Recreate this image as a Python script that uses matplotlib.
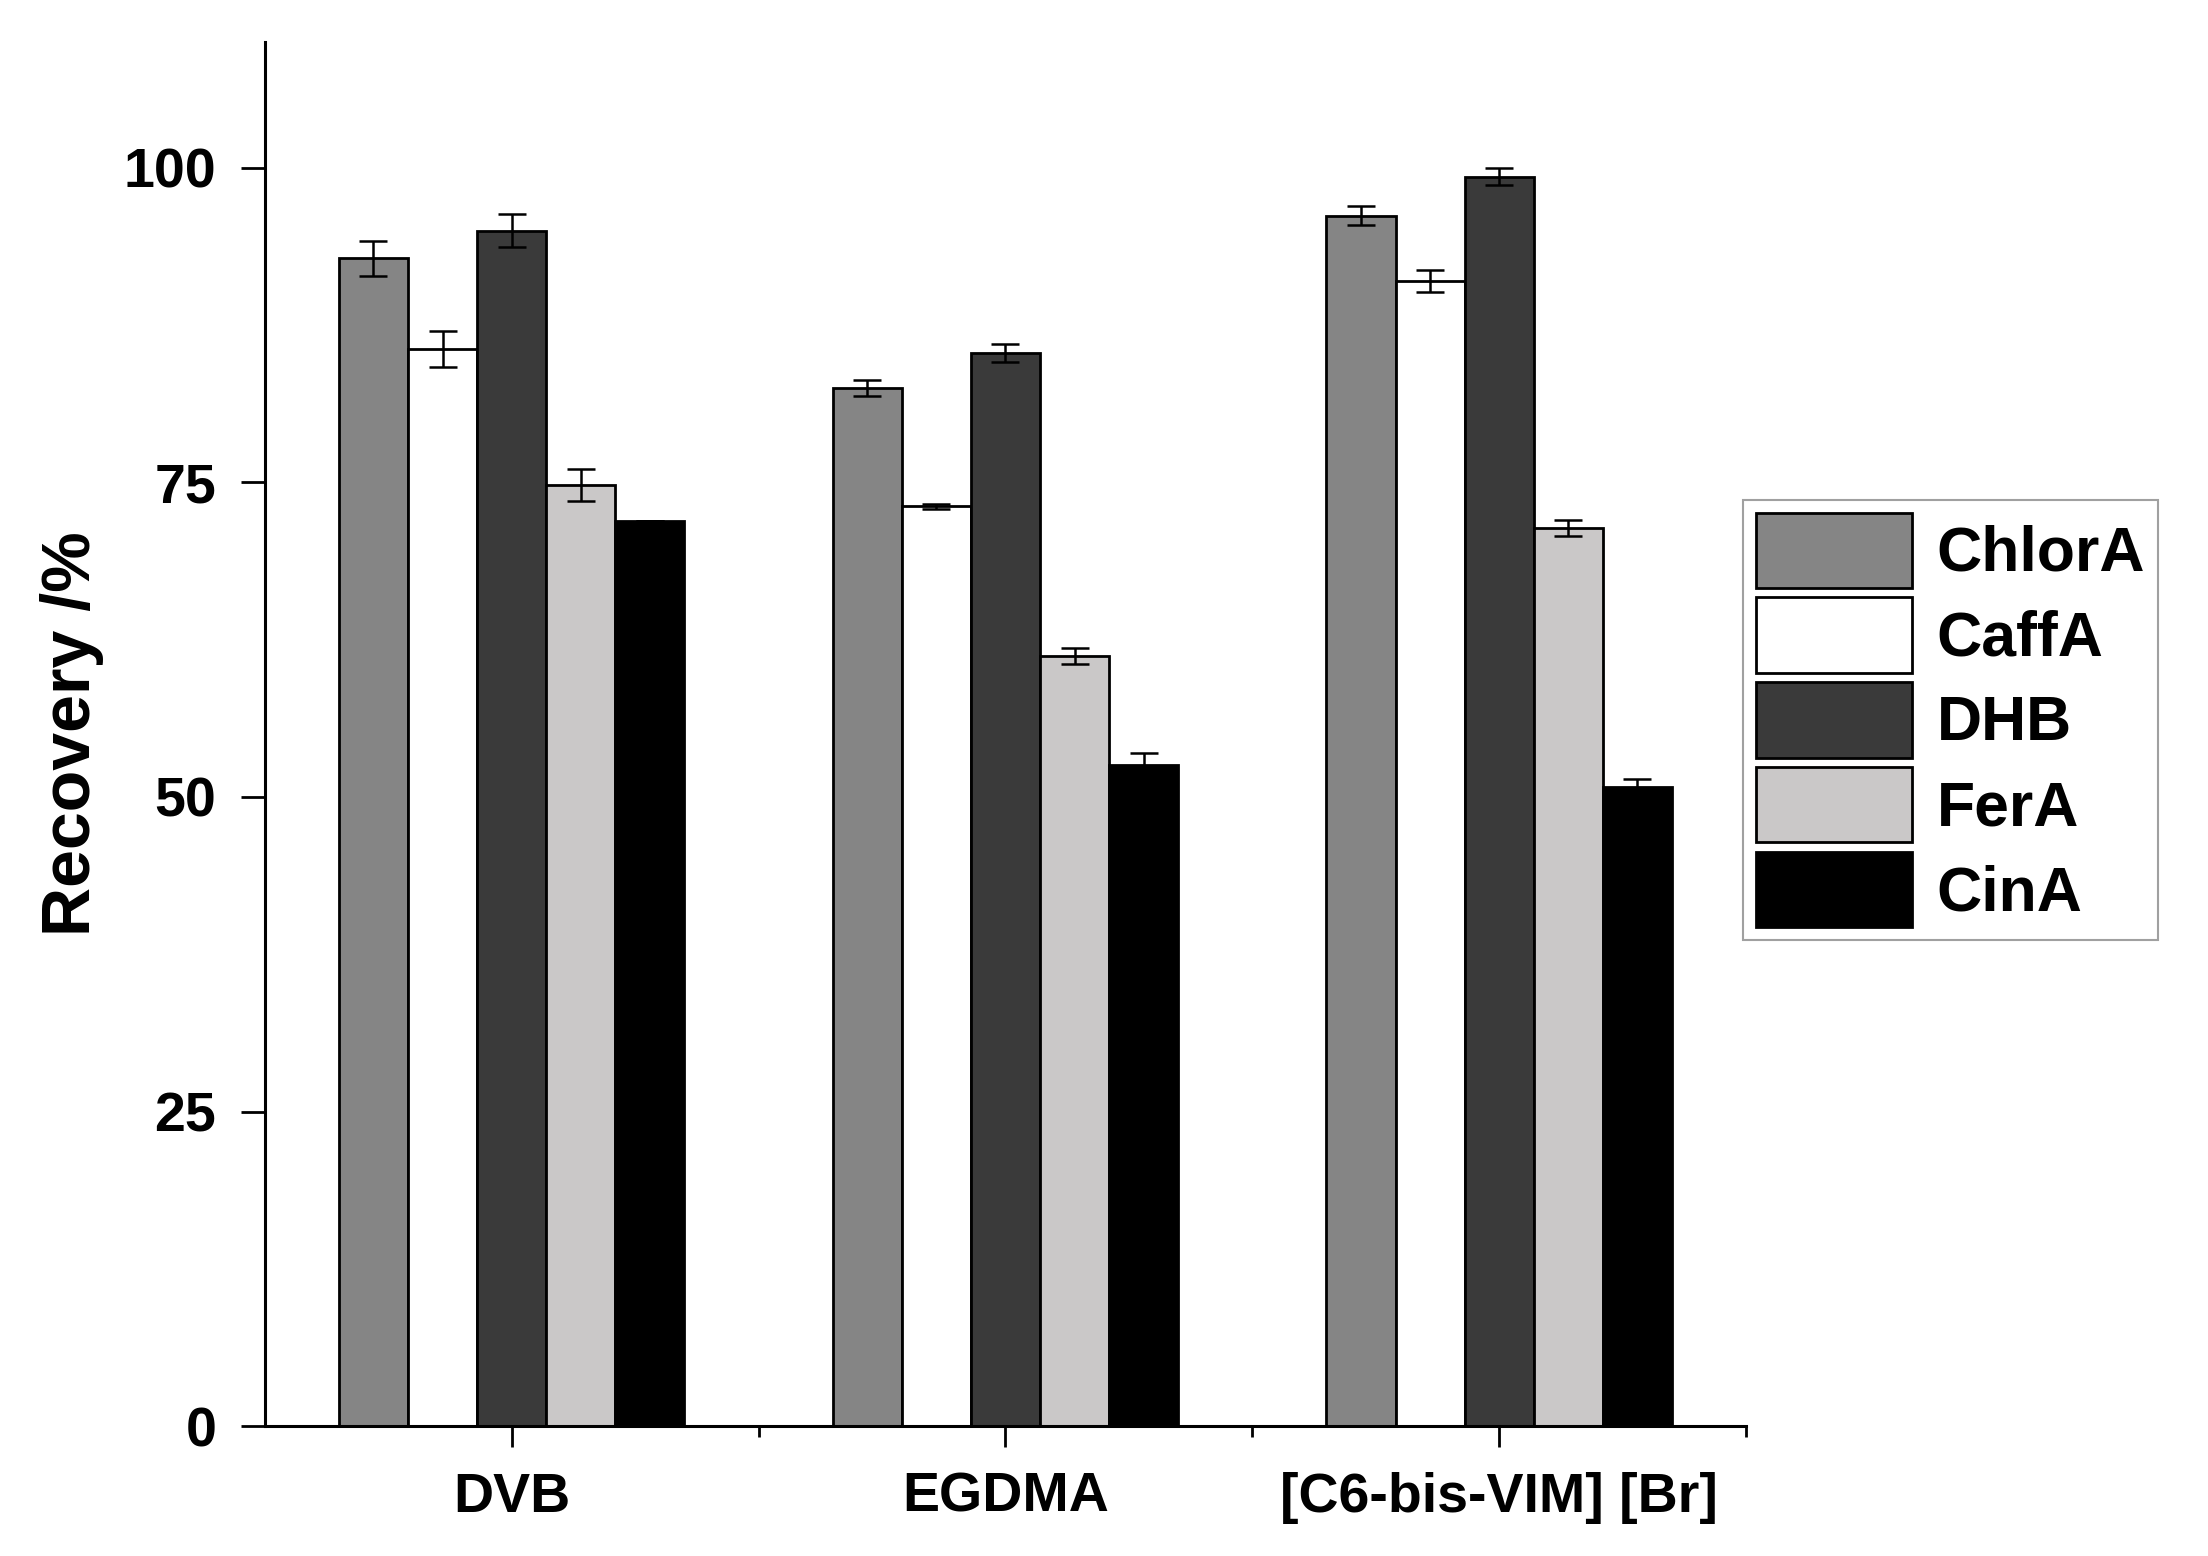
import matplotlib
matplotlib.use("Agg")
import matplotlib.pyplot as plt
import numpy as np

# data
materials = ["DVB", "EGDMA", "[C6-bis-VIM] [Br]"]
analytes = ["ChlorA", "CaffA", "DHB", "FerA", "CinA"]
colors = ["#858585", "#ffffff", "#3a3a3a", "#cac8c8", "#000000"]

chlora = [92.8, 82.5, 96.2]
caffa = [85.6, 73.1, 91.0]
dhb = [95.0, 85.3, 99.3]
fera = [74.8, 61.2, 71.4]
cina = [71.9, 52.5, 50.8]

chlora_err = [1.4, 0.65, 0.75]
caffa_err = [1.4, 0.2, 0.85]
dhb_err = [1.3, 0.7, 0.7]
fera_err = [1.3, 0.6, 0.65]
cina_err = [0.0, 1.0, 0.6]

values = [chlora, caffa, dhb, fera, cina]
errors = [chlora_err, caffa_err, dhb_err, fera_err, cina_err]

narrow = ["Liberation Sans Narrow", "Liberation Sans", "DejaVu Sans"]
wide = ["Liberation Sans", "DejaVu Sans"]

fig = plt.figure(figsize=(22.08, 15.56), dpi=100)
ax = fig.add_axes([0.1199, 0.0835, 0.6709, 0.8895])

x = np.arange(len(materials))
width = 0.14
for i, (name, vals, errs, col) in enumerate(zip(analytes, values, errors, colors)):
    ax.bar(
        x + (i - 2) * width,
        vals,
        width,
        yerr=errs,
        color=col,
        edgecolor="black",
        linewidth=2,
        label=name,
        capsize=10,
        error_kw=dict(elinewidth=1.8, capthick=1.8, ecolor="black"),
    )

ax.set_xlim(-0.5, 2.5)
ax.set_ylim(0, 110)
ax.set_yticks([0, 25, 50, 75, 100])
ax.set_xticks(x)
ax.set_xticklabels(materials)
ax.set_xticks([0.5, 1.5, 2.5], minor=True)

for s in ["top", "right"]:
    ax.spines[s].set_visible(False)
for s in ["left", "bottom"]:
    ax.spines[s].set_linewidth(2.2)

ax.tick_params(axis="y", length=17, width=2, pad=18)
ax.tick_params(axis="x", which="major", length=15, width=2, pad=18)
ax.tick_params(axis="x", which="minor", length=8, width=2)
for lab in ax.get_xticklabels() + ax.get_yticklabels():
    lab.set_family(narrow)
    lab.set_fontweight("bold")
    lab.set_fontsize(40)

ax.set_ylabel("Recovery /%", fontsize=49, fontweight="bold", family=wide, labelpad=14)

leg = fig.legend(
    loc="upper left",
    bbox_to_anchor=(1743 / 2208, 1 - 500 / 1556),
    prop=dict(family=wide, weight="bold", size=45),
    handlelength=2.5,
    handleheight=1.48,
    labelspacing=0.15,
    handletextpad=0.4,
    borderpad=0.2,
    borderaxespad=0,
    frameon=True,
    fancybox=False,
)
leg.get_frame().set_edgecolor("#888888")
leg.get_frame().set_linewidth(1.5)

fig.savefig("out.png", dpi=100)
